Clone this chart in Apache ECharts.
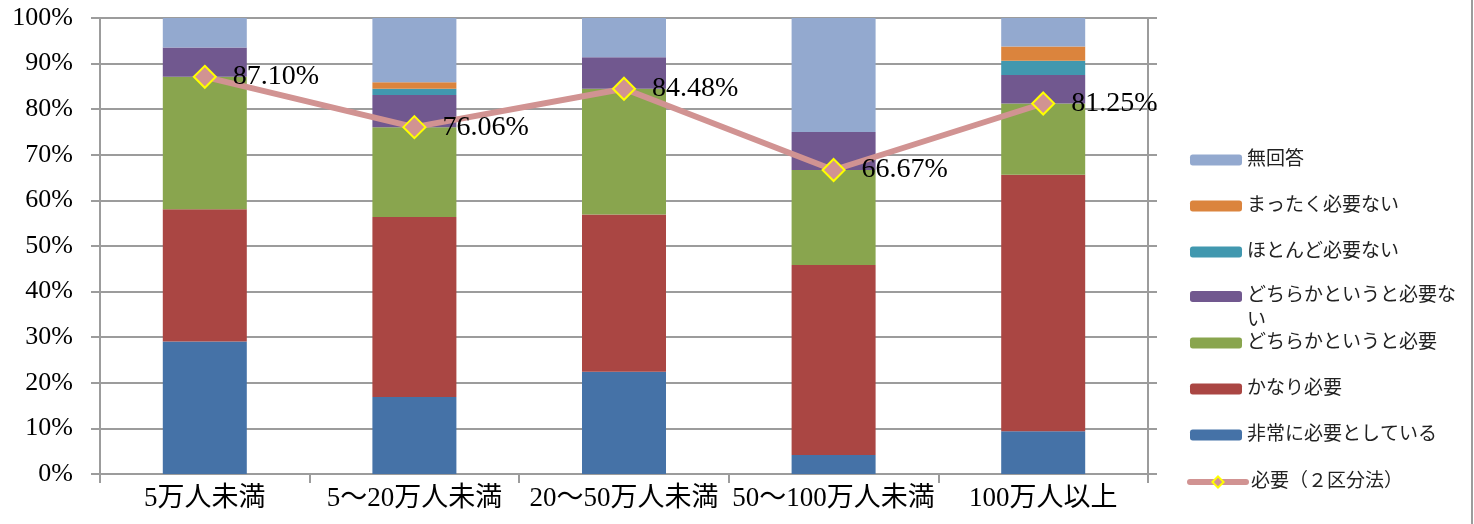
<!DOCTYPE html>
<html>
<head>
<meta charset="utf-8">
<script src="https://cdn.jsdelivr.net/npm/echarts@6/dist/echarts.min.js"></script>
<style>
html,body{margin:0;padding:0;background:#fff;}
#chart{width:1474px;height:524px;}
</style>
</head>
<body>
<div id="chart"></div>
<script>
// ---- data ----
const categories = ['5万人未満', '5～20万人未満', '20～50万人未満', '50～100万人未満', '100万人以上'];
const veryNeeded     = [29.03, 16.90, 22.41, 4.17, 9.37];   // 非常に必要としている
const quiteNeeded    = [29.03, 39.44, 34.48, 41.67, 56.25]; // かなり必要
const somewhatNeeded = [29.04, 19.72, 27.59, 20.83, 15.63]; // どちらかというと必要
const somewhatNot    = [6.45, 7.04, 6.90, 8.33, 6.25];      // どちらかというと必要ない
const hardlyNeeded   = [0, 1.41, 0, 0, 3.13];               // ほとんど必要ない
const notAtAll       = [0, 1.41, 0, 0, 3.13];               // まったく必要ない
const noAnswer       = [6.45, 14.08, 8.62, 25.00, 6.25];    // 無回答
const needed2        = [87.10, 76.06, 84.48, 66.67, 81.25]; // 必要（２区分法）
const yTicks = [0, 10, 20, 30, 40, 50, 60, 70, 80, 90, 100];

const names = ['非常に必要としている', 'かなり必要', 'どちらかというと必要', 'どちらかというと必要ない', 'ほとんど必要ない', 'まったく必要ない', '無回答'];
const barData = [veryNeeded, quiteNeeded, somewhatNeeded, somewhatNot, hardlyNeeded, notAtAll, noAnswer];
const colors = ['#4572A7', '#AA4643', '#89A54E', '#71588F', '#4198AF', '#DB843D', '#93A9CF'];
const lineName = '必要（２区分法）';

const serif = "'Liberation Serif', 'Noto Sans CJK JP', serif";
const gridColor = '#9c9c9c';
const lineColor = '#D19392';

const chart = echarts.init(document.getElementById('chart'), null, {renderer: 'canvas'});

const series = barData.map((d, i) => ({
  name: names[i],
  type: 'bar',
  stack: 'total',
  data: d,
  barWidth: 84,
  itemStyle: {color: colors[i]},
  silent: true,
  emphasis: {disabled: true}
}));
series.push({
  name: lineName,
  type: 'line',
  data: needed2,
  z: 10,
  symbol: 'diamond',
  symbolSize: 22,
  lineStyle: {color: lineColor, width: 6},
  itemStyle: {color: lineColor, borderColor: '#FFFF00', borderWidth: 2},
  label: {
    show: true,
    position: 'right',
    distance: 16,
    color: '#000',
    fontFamily: serif,
    fontSize: 28,
    formatter: p => p.value.toFixed(2) + '%'
  },
  silent: true,
  emphasis: {disabled: true}
});

const legendText = {fontFamily: serif, fontSize: 19, color: '#222', lineHeight: 20};
const legendBase = {
  orient: 'vertical',
  left: 1190,
  padding: 0,
  itemWidth: 52,
  itemHeight: 11,
  itemGap: 26,
  selectedMode: false,
  textStyle: legendText
};

chart.setOption({
  animation: false,
  backgroundColor: '#fff',
  grid: {left: 100, right: 326, top: 18, bottom: 50, containLabel: false},
  legend: [
    Object.assign({}, legendBase, {top: 150, data: ['無回答', 'まったく必要ない', 'ほとんど必要ない']}),
    Object.assign({}, legendBase, {
      top: 259,
      data: ['どちらかというと必要ない'],
      formatter: () => ' \nどちらかというと必要な\nい',
      textStyle: Object.assign({}, legendText, {lineHeight: 25})
    }),
    Object.assign({}, legendBase, {
      top: 333,
      data: ['どちらかというと必要', 'かなり必要', '非常に必要としている']
    }),
    Object.assign({}, legendBase, {
      top: 472,
      left: 1187,
      itemWidth: 56,
      itemHeight: 14,
      data: [{name: lineName, lineStyle: {width: 6, cap: 'round'}}]
    })
  ],
  xAxis: {
    type: 'category',
    data: categories,
    axisLine: {lineStyle: {color: gridColor, width: 2}},
    axisTick: {show: true, length: 9, lineStyle: {color: gridColor, width: 2}},
    axisLabel: {color: '#000', fontFamily: serif, fontSize: 27, margin: 11, interval: 0}
  },
  yAxis: [
    {
      type: 'value',
      min: yTicks[0],
      max: yTicks[yTicks.length - 1],
      interval: 10,
      axisLine: {show: true, lineStyle: {color: gridColor, width: 2}},
      axisTick: {show: true, length: 9, lineStyle: {color: gridColor, width: 2}},
      splitLine: {show: true, lineStyle: {color: gridColor, width: 2}},
      axisLabel: {color: '#000', fontFamily: serif, fontSize: 26, margin: 27, formatter: '{value}%'}
    },
    {
      type: 'value',
      position: 'right',
      min: yTicks[0],
      max: yTicks[yTicks.length - 1],
      interval: 10,
      axisLine: {show: true, lineStyle: {color: gridColor, width: 2}},
      axisTick: {show: true, length: 9, lineStyle: {color: gridColor, width: 2}},
      splitLine: {show: false},
      axisLabel: {show: false}
    }
  ],
  graphic: [{
    type: 'line',
    shape: {x1: 1472, y1: 0, x2: 1472, y2: 524},
    style: {stroke: '#9c9c9c', lineWidth: 2},
    silent: true
  }],
  series: series
});
</script>
</body>
</html>
